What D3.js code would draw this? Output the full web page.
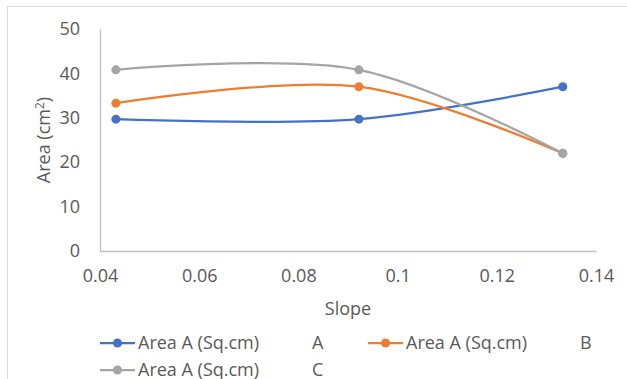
<!DOCTYPE html>
<html>
<head>
<meta charset="utf-8">
<script src="https://cdn.jsdelivr.net/npm/d3@7"></script>
<style>
  body { margin: 0; background: #fff; }
  text { font-family: "Open Sans", sans-serif; fill: #595959; }
</style>
</head>
<body>
<div id="chart"></div>
<script>
// data
const slopes = [0.0432, 0.0922, 0.1333];
const seriesA = [29.7, 29.7, 37.0];
const seriesB = [33.3, 37.0, 22.0];
const seriesC = [40.8, 40.8, 22.0];
const seriesNames = ['Area A (Sq.cm)', 'Area A (Sq.cm)', 'Area A (Sq.cm)'];
const seriesTags = ['A', 'B', 'C'];
const colors = ['#4472c4', '#ed7d31', '#a5a5a5'];
const xTicks = [0.04, 0.06, 0.08, 0.1, 0.12, 0.14];
const yTicks = [0, 10, 20, 30, 40, 50];

const width = 627, height = 379;
const plot = { left: 100, right: 596, top: 29, bottom: 251 };
const fontSize = 18;

const svg = d3.select('#chart').append('svg')
  .attr('width', width)
  .attr('height', height);

// chart area border
svg.append('rect')
  .attr('x', 7.5).attr('y', 6.5)
  .attr('width', 640).attr('height', 400)
  .attr('fill', 'none')
  .attr('stroke', '#d9d9d9');

const x = d3.scaleLinear().domain([0.04, 0.14]).range([plot.left, plot.right]);
const y = d3.scaleLinear().domain([0, 50]).range([plot.bottom, plot.top]);

// axes
const xAxis = svg.append('g')
  .attr('transform', `translate(0,${plot.bottom})`)
  .call(d3.axisBottom(x).tickValues(xTicks).tickSize(0).tickPadding(18).tickFormat(d => String(+d.toFixed(2))));
xAxis.select('.domain').attr('stroke', '#bfbfbf').attr('stroke-width', 1.3);
xAxis.selectAll('text').attr('font-size', fontSize);

const yAxis = svg.append('g')
  .attr('transform', `translate(${plot.left},0)`)
  .call(d3.axisLeft(y).tickValues(yTicks).tickSize(0).tickPadding(20));
yAxis.select('.domain').attr('stroke', '#bfbfbf').attr('stroke-width', 1.3);
yAxis.selectAll('text').attr('font-size', fontSize);

// axis labels
svg.append('text')
  .attr('x', 348).attr('y', 315)
  .attr('text-anchor', 'middle')
  .attr('font-size', fontSize)
  .text('Slope');

const yl = svg.append('text')
  .attr('transform', 'translate(50,140) rotate(-90)')
  .attr('text-anchor', 'middle')
  .attr('font-size', fontSize);
yl.append('tspan').text('Area (cm');
yl.append('tspan').attr('font-size', 12).attr('dy', -6).text('2');
yl.append('tspan').attr('dy', 6).text(')');

// series
const allSeries = [seriesA, seriesB, seriesC];
const line = d3.line()
  .x((d, i) => x(slopes[i]))
  .y(d => y(d))
  .curve(d3.curveCatmullRom.alpha(0.5));

allSeries.forEach((vals, k) => {
  const g = svg.append('g');
  g.append('path')
    .datum(vals)
    .attr('d', line)
    .attr('fill', 'none')
    .attr('stroke', colors[k])
    .attr('stroke-width', 2.25);
  g.selectAll('circle')
    .data(vals)
    .enter()
    .append('circle')
    .attr('cx', (d, i) => x(slopes[i]))
    .attr('cy', d => y(d))
    .attr('r', 4.5)
    .attr('fill', colors[k]);
});

// legend
const legendPos = [
  { x: 100, y: 343, tagX: 312 },
  { x: 368, y: 343, tagX: 580 },
  { x: 100, y: 370, tagX: 312 }
];
legendPos.forEach((p, k) => {
  const lg = svg.append('g').attr('transform', `translate(${p.x},${p.y})`);
  lg.append('line')
    .attr('x1', 0).attr('x2', 35)
    .attr('stroke', colors[k]).attr('stroke-width', 2.25);
  lg.append('circle').attr('cx', 17.5).attr('r', 4.5).attr('fill', colors[k]);
  lg.append('text')
    .attr('x', 38).attr('dy', '0.35em')
    .attr('font-size', fontSize)
    .text(seriesNames[k]);
  lg.append('text')
    .attr('x', p.tagX - p.x).attr('dy', '0.35em')
    .attr('font-size', fontSize)
    .text(seriesTags[k]);
});
</script>
</body>
</html>
